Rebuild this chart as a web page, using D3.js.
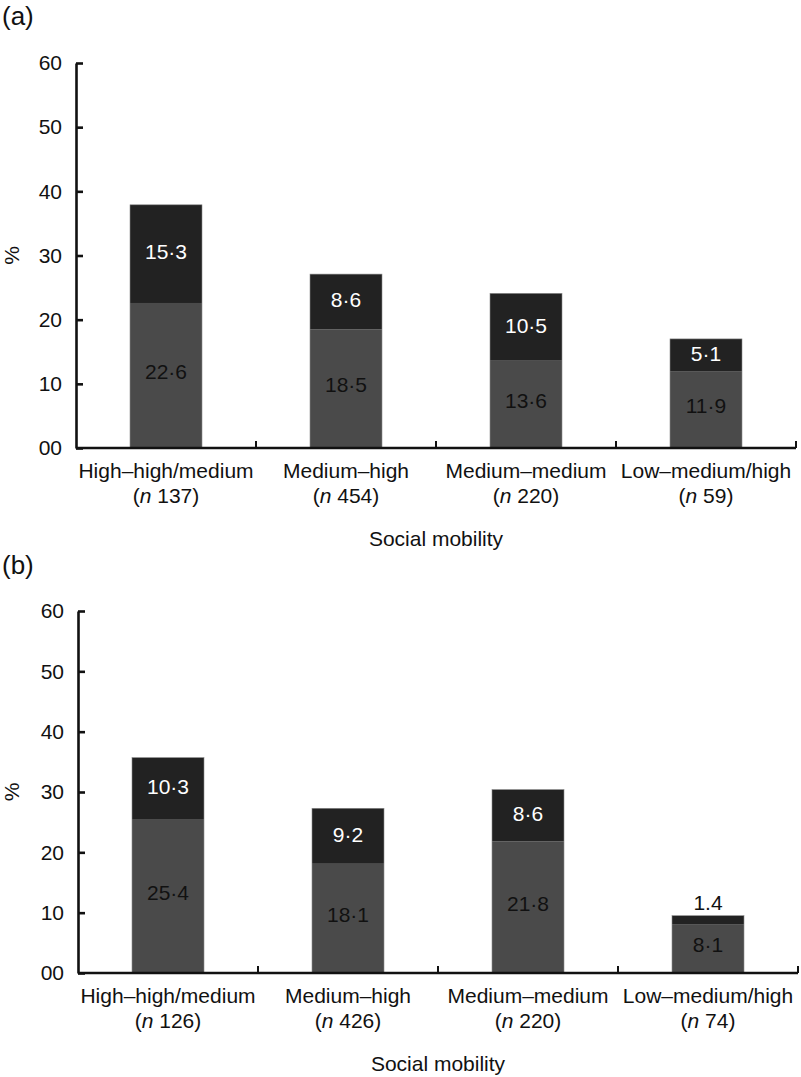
<!DOCTYPE html>
<html>
<head>
<meta charset="utf-8">
<script src="https://cdn.jsdelivr.net/npm/d3@7"></script>
<style>
  html, body { margin: 0; padding: 0; background: #fff; }
  svg text { font-family: "Liberation Sans", Arial, Helvetica, sans-serif; }
</style>
</head>
<body>
<svg id="chart" width="801" height="1077"></svg>
<script>
// ---- data ----
const categories = ["High–high/medium", "Medium–high", "Medium–medium", "Low–medium/high"];
const nA = ["137", "454", "220", "59"];
const nB = ["126", "426", "220", "74"];
const lowerA = [22.6, 18.5, 13.6, 11.9];
const upperA = [15.3, 8.6, 10.5, 5.1];
const lowerB = [25.4, 18.1, 21.8, 8.1];
const upperB = [10.3, 9.2, 8.6, 1.4];
const lowerLabelsA = ["22·6", "18·5", "13·6", "11·9"];
const upperLabelsA = ["15·3", "8·6", "10·5", "5·1"];
const lowerLabelsB = ["25·4", "18·1", "21·8", "8·1"];
const upperLabelsB = ["10·3", "9·2", "8·6", "1.4"];
const yTicks = [0, 10, 20, 30, 40, 50, 60];
const yTickLabels = ["00", "10", "20", "30", "40", "50", "60"];
const xTitle = "Social mobility";
const yTitle = "%";

const svg = d3.select("#chart");
const FS = 21;

function panel(opts) {
  const { tag, tagY, x0, yTop, yZero, n, lower, upper, lowerLabels, upperLabels, outsideUpper } = opts;
  const g = svg.append("g");

  const x = d3.scaleBand().domain(categories).range([x0, x0 + 720])
    .paddingInner(0.6).paddingOuter(0.3);
  const y = d3.scaleLinear().domain([0, 60]).range([yZero, yTop]);

  // panel tag
  g.append("text").attr("x", 2).attr("y", tagY).attr("font-size", 26)
    .attr("dominant-baseline", "middle").attr("fill", "#111").text(tag);

  // bars
  categories.forEach((c, i) => {
    g.append("rect").attr("x", x(c)).attr("width", x.bandwidth())
      .attr("y", y(lower[i])).attr("height", y(0) - y(lower[i]))
      .attr("fill", "#4a4a4a");
    g.append("rect").attr("x", x(c)).attr("width", x.bandwidth())
      .attr("y", y(lower[i] + upper[i])).attr("height", y(lower[i]) - y(lower[i] + upper[i]))
      .attr("fill", "#222222");
    g.append("rect").attr("x", x(c)).attr("width", x.bandwidth())
      .attr("y", y(lower[i] + upper[i])).attr("height", y(0) - y(lower[i] + upper[i]))
      .attr("fill", "none").attr("stroke", "#8a8a8a").attr("stroke-width", 0.6);
    const cx = x(c) + x.bandwidth() / 2;
    g.append("text").attr("x", cx).attr("y", y(lower[i] / 2) - 2)
      .attr("text-anchor", "middle").attr("dominant-baseline", "middle")
      .attr("font-size", FS).attr("fill", "#111").text(lowerLabels[i]);
    if (outsideUpper && outsideUpper[i]) {
      g.append("text").attr("x", cx).attr("y", y(lower[i] + upper[i]) - 6)
        .attr("text-anchor", "middle")
        .attr("font-size", FS).attr("fill", "#111").text(upperLabels[i]);
    } else {
      g.append("text").attr("x", cx).attr("y", y(lower[i] + upper[i] / 2))
        .attr("text-anchor", "middle").attr("dominant-baseline", "middle")
        .attr("font-size", FS).attr("fill", "#fff").text(upperLabels[i]);
    }
  });

  // y axis
  const yAxis = d3.axisLeft(y).tickValues(yTicks)
    .tickFormat((d, i) => yTickLabels[i])
    .tickSizeInner(-7).tickSizeOuter(0).tickPadding(14);
  const ya = g.append("g").attr("transform", `translate(${x0},0)`).call(yAxis);
  ya.select(".domain").attr("stroke", "#111").attr("stroke-width", 2.6);
  ya.selectAll(".tick line").attr("stroke", "#111").attr("stroke-width", 2.6);
  ya.selectAll(".tick text").attr("font-size", FS).attr("fill", "#111")
    .attr("font-family", "Liberation Sans, Arial, sans-serif");

  // x axis (labels only)
  const xAxis = d3.axisBottom(x).tickSize(0).tickPadding(0).tickFormat("");
  const xa = g.append("g").attr("transform", `translate(0,${yZero})`).call(xAxis);
  xa.select(".domain").remove();
  g.append("line").attr("x1", x0).attr("x2", x0 + 720).attr("y1", yZero).attr("y2", yZero)
    .attr("stroke", "#111").attr("stroke-width", 2.6);
  // boundary ticks
  categories.forEach((c) => {
    const bx = x(c) + x.bandwidth() + (x.step() - x.bandwidth()) / 2;
    g.append("line").attr("x1", bx).attr("x2", bx).attr("y1", yZero).attr("y2", yZero - 7)
      .attr("stroke", "#111").attr("stroke-width", 2);
  });
  // category labels
  xa.selectAll(".tick").each(function (d, i) {
    const t = d3.select(this);
    t.append("text").attr("y", 24).attr("dominant-baseline", "middle")
      .attr("text-anchor", "middle").attr("font-size", FS).attr("fill", "#111")
      .attr("font-family", "Liberation Sans, Arial, sans-serif").text(d);
    const t2 = t.append("text").attr("y", 49).attr("dominant-baseline", "middle")
      .attr("text-anchor", "middle").attr("font-size", FS).attr("fill", "#111")
      .attr("font-family", "Liberation Sans, Arial, sans-serif");
    t2.append("tspan").text("(");
    t2.append("tspan").attr("font-style", "italic").text("n");
    t2.append("tspan").text(" " + n[i] + ")");
  });

  // axis titles
  g.append("text").attr("x", x0 + 360).attr("y", yZero + 92)
    .attr("text-anchor", "middle").attr("dominant-baseline", "middle")
    .attr("font-size", FS).attr("fill", "#111").text(xTitle);
  const ym = (yTop + yZero) / 2;
  g.append("text").attr("transform", `translate(13,${ym}) rotate(-90)`)
    .attr("text-anchor", "middle").attr("dominant-baseline", "middle")
    .attr("font-size", FS).attr("fill", "#111").text(yTitle);
}

panel({ tag: "(a)", tagY: 18, x0: 76, yTop: 63, yZero: 448, n: nA,
  lower: lowerA, upper: upperA, lowerLabels: lowerLabelsA, upperLabels: upperLabelsA });
panel({ tag: "(b)", tagY: 567, x0: 78, yTop: 611, yZero: 973, n: nB,
  lower: lowerB, upper: upperB, lowerLabels: lowerLabelsB, upperLabels: upperLabelsB,
  outsideUpper: [false, false, false, true] });
</script>
</body>
</html>
